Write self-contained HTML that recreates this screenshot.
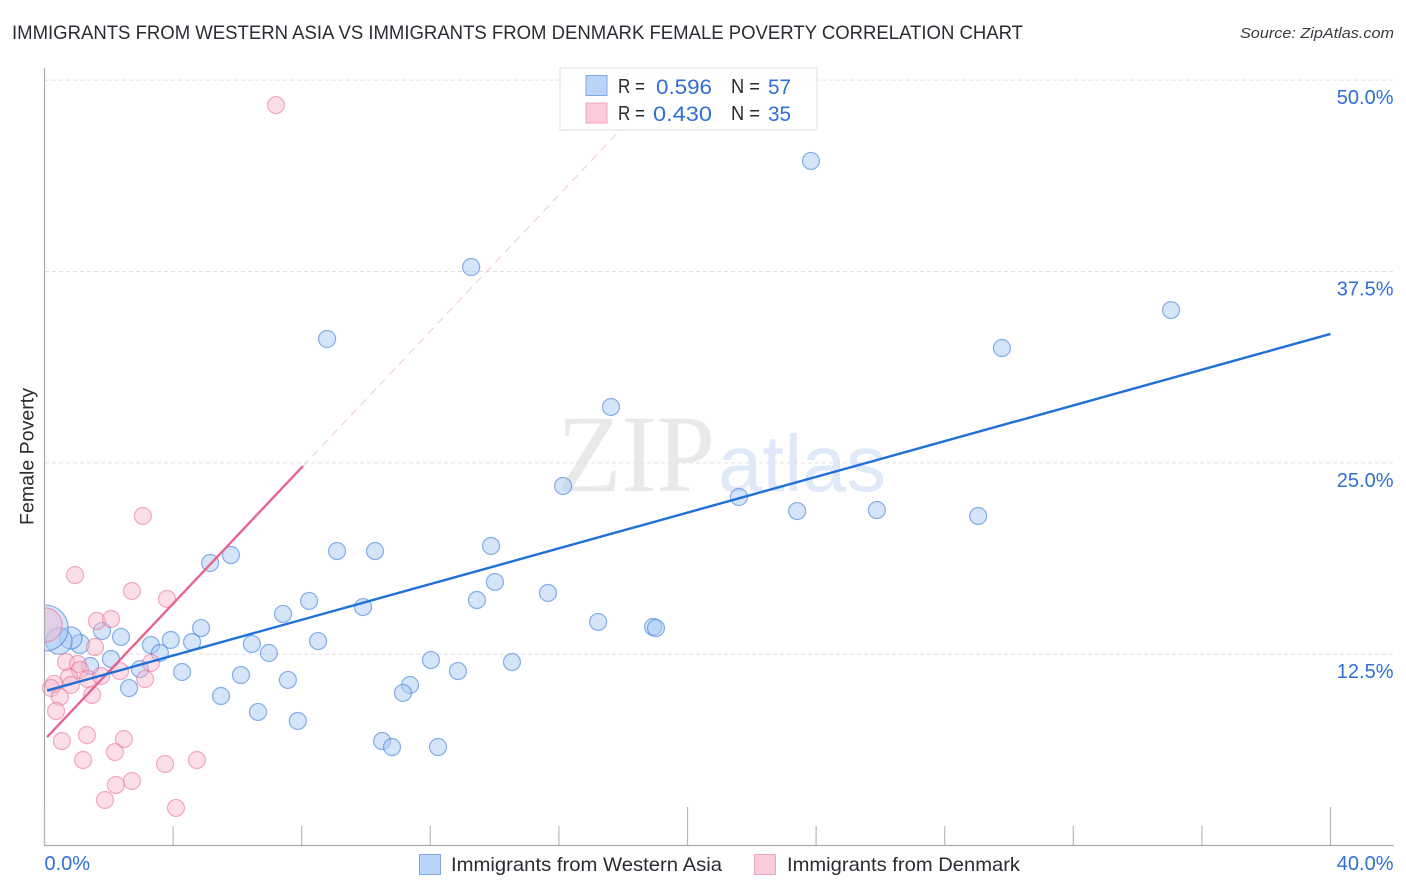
<!DOCTYPE html>
<html lang="en">
<head>
<meta charset="utf-8">
<title>Immigrants from Western Asia vs Immigrants from Denmark Female Poverty Correlation Chart</title>
<style>
html,body{margin:0;padding:0;background:#fff;width:1406px;height:892px;overflow:hidden}
svg{display:block;font-family:"Liberation Sans",sans-serif}
</style>
</head>
<body>
<svg id="chart" xmlns="http://www.w3.org/2000/svg" width="1406" height="892" viewBox="0 0 1406 892">
  <text x="12" y="39" font-size="19.5" fill="#2b2b33" textLength="1011" lengthAdjust="spacingAndGlyphs">IMMIGRANTS FROM WESTERN ASIA VS IMMIGRANTS FROM DENMARK FEMALE POVERTY CORRELATION CHART</text>
  <text x="1394" y="38" font-size="15" font-style="italic" fill="#3a3a42" text-anchor="end" textLength="154" lengthAdjust="spacingAndGlyphs">Source: ZipAtlas.com</text>
  <text transform="translate(33.5,456.5) rotate(-90)" font-size="19" fill="#2b2b33" text-anchor="middle" textLength="137" lengthAdjust="spacingAndGlyphs">Female Poverty</text>
  <g>
    <text x="557" y="491" font-family="'Liberation Serif',serif" font-size="110" fill="#e9e9e9" textLength="158" lengthAdjust="spacingAndGlyphs">ZIP</text>
    <text x="718" y="491" font-family="'Liberation Sans',sans-serif" font-size="80" fill="#dfe9f9" textLength="168" lengthAdjust="spacingAndGlyphs">atlas</text>
  </g>
  <g id="grid"></g>
  <g id="blue-points"></g>
  <g id="pink-points"></g>
  <rect x="0" y="590" width="44.500" height="80" fill="#fff"/>
  <g id="axes"></g>
  <g id="trends"></g>
  <g>
    <rect x="560" y="68" width="257" height="62" fill="#fff" fill-opacity="0.9" stroke="#dfdfdf" stroke-width="1"/>
    <rect x="586" y="75.500" width="21" height="20" fill="#b9d4f7" stroke="#7fa9e6" stroke-width="1"/>
    <rect x="586" y="103" width="21" height="20" fill="#fbcbdb" stroke="#f0a6bf" stroke-width="1"/>
    <g font-size="20.5" fill="#2b2b33">
      <text x="618" y="93" textLength="27" lengthAdjust="spacingAndGlyphs">R =</text>
      <text x="731" y="93" textLength="29" lengthAdjust="spacingAndGlyphs">N =</text>
      <text x="618" y="120" textLength="27" lengthAdjust="spacingAndGlyphs">R =</text>
      <text x="731" y="120" textLength="29" lengthAdjust="spacingAndGlyphs">N =</text>
    </g>
    <g font-size="21.5" fill="#2f6fd6">
      <text x="656" y="94" textLength="56" lengthAdjust="spacingAndGlyphs">0.596</text>
      <text x="768" y="94" textLength="23" lengthAdjust="spacingAndGlyphs">57</text>
      <text x="653" y="121" textLength="59" lengthAdjust="spacingAndGlyphs">0.430</text>
      <text x="768" y="121" textLength="23" lengthAdjust="spacingAndGlyphs">35</text>
    </g>
  </g>
  <g>
    <rect x="419.500" y="854.500" width="21" height="20" fill="#b9d4f7" stroke="#7fa9e6" stroke-width="1"/>
    <text x="451" y="871" font-size="19.500" fill="#2b2b33" textLength="271" lengthAdjust="spacingAndGlyphs">Immigrants from Western Asia</text>
    <rect x="754.500" y="854.500" width="21" height="20" fill="#fbcbdb" stroke="#f0a6bf" stroke-width="1"/>
    <text x="787" y="871" font-size="19.500" fill="#2b2b33" textLength="233" lengthAdjust="spacingAndGlyphs">Immigrants from Denmark</text>
  </g>
</svg>
<script>
const yTickValues = [12.5, 25, 37.5, 50];
const yTickLabels = ['12.5%', '25.0%', '37.5%', '50.0%'];
const xTickValues = [0, 4, 8, 12, 16, 20, 24, 28, 32, 36, 40];
const xMajorTicks = [0, 20, 40];
const xEndLabels = ['0.0%', '40.0%'];
const xEndValues = [0, 40];

const blueX = [23.84,13.27,8.79,35.04,29.78,17.62,16.13,21.60,23.41,25.89,29.04,13.89,9.10,10.28,5.80,5.15,14.01,15.66,13.45,8.23,9.91,7.42,17.22,18.93,19.02,1.79,4.87,2.38,3.93,3.31,4.59,8.51,6.45,1.10,0.82,0.45,0.02,3.59,6.98,12.02,14.54,2.07,1.42,2.97,4.28,6.11,12.86,7.57,11.37,11.15,2.63,5.49,6.64,7.88,10.50,10.81,12.24];
const blueY = [44.72,37.79,33.09,34.98,32.50,28.65,23.49,22.77,21.85,21.92,21.53,19.57,19.24,19.24,18.98,18.46,17.22,16.50,16.04,15.98,15.58,15.13,14.61,14.28,14.21,14.02,14.21,13.63,13.43,13.10,13.30,13.36,13.17,13.17,13.56,13.36,14.21,12.58,12.58,12.12,11.99,12.19,11.73,11.53,11.34,11.14,11.40,10.82,10.49,9.97,10.29,9.77,8.73,8.14,6.83,6.44,6.44];
const blueWeight = [1,1,1,1,1,1,1,1,1,1,1,1,1,1,1,1,1,1,1,1,1,1,1,1,1,1,1,1,1,1,1,1,1,1.25,1.7,2.4,7.3,1,1,1,1,1,1,1,1,1,1,1,1,1,1,1,1,1,1,1,1];

const pinkX = [7.20,3.06,0.95,2.72,3.81,1.63,2.07,1.57,0.67,1.04,1.10,0.76,0.82,0.30,0.20,0.48,0.36,1.35,1.76,1.48,2.35,3.31,3.13,0.54,1.32,2.47,2.19,1.20,3.75,4.74,2.72,2.22,1.88,4.09,0.02];
const pinkY = [48.37,21.53,17.67,16.63,16.11,14.67,14.80,12.97,11.99,11.86,11.47,11.01,10.49,10.56,10.29,9.71,8.79,10.88,11.08,9.84,11.40,11.93,10.88,6.83,7.22,6.96,6.11,5.59,5.33,5.59,4.22,3.96,2.98,2.46,14.41];
const pinkWeight = [1,1,1,1,1,1,1,1,1,1,1,1,1,1,1,1,1,1,1,1,1,1,1,1,1,1,1,1,1,1,1,1,1,1,4];

const blueTrend = [10.08, 0.5835];
const pinkTrend = [6.91, 2.224];
const blueTrendRange = [0.08, 40];
const pinkSolidRange = [0.08, 8.04];
const pinkDashRange = [8.04, 19.3];

const NS = 'http://www.w3.org/2000/svg';
function sx(v){ return 44.5 + v * 32.15; }
function sy(v){ return 845.6 - v * 15.31; }
function make(tag, parent, attrs){
  const el = document.createElementNS(NS, tag);
  for (const k in attrs) el.setAttribute(k, attrs[k]);
  document.getElementById(parent).appendChild(el);
  return el;
}

yTickValues.forEach(function(v, i){
  const line = make('line', 'grid', {x1:45, x2:1393, y1:sy(v), y2:sy(v), stroke:'#e0e0e0', 'stroke-width':1, 'stroke-dasharray':'4 3'});
  
  
  const t = make('text', 'axes', {x:1393.5, y:sy(v)+24, 'font-size':20, fill:'#2f6fd6', 'text-anchor':'end'});
  
  
  t.textContent = yTickLabels[i];
});

const yAxis = make('line', 'axes', {x1:44.5, x2:44.5, y1:68, y2:846, stroke:'#aaaaaa', 'stroke-width':1.2});


const xAxis = make('line', 'axes', {x1:44, x2:1394, y1:845.5, y2:845.5, stroke:'#aaaaaa', 'stroke-width':1.2});



xTickValues.forEach(function(v){
  const top = xMajorTicks.indexOf(v) >= 0 ? 807 : 826;
  const tick = make('line', 'axes', {x1:sx(v), x2:sx(v), y1:top, y2:845, stroke:'#b8b8b8', 'stroke-width':1.2});
  
  
});
xEndValues.forEach(function(v, i){
  const t = make('text', 'axes', {x: i === 0 ? 44.5 : 1393.5, y:870, 'font-size':20, fill:'#2f6fd6', 'text-anchor': i === 0 ? 'start' : 'end'});
  
  
  t.textContent = xEndLabels[i];
});

blueX.forEach(function(v, i){
  const c = make('circle', 'blue-points', {cx:sx(v), cy:sy(blueY[i]), r:8.5*Math.sqrt(blueWeight[i]), fill:'#a9c9f3', 'fill-opacity':0.5, stroke:'#2f74d8', 'stroke-opacity':0.55, 'stroke-width':1.2});
  
  
});
pinkX.forEach(function(v, i){
  const c = make('circle', 'pink-points', {cx:sx(v), cy:sy(pinkY[i]), r:8.5*Math.sqrt(pinkWeight[i]), fill:'#f7b6cb', 'fill-opacity':0.45, stroke:'#e8618c', 'stroke-opacity':0.5, 'stroke-width':1.2});
  
  
});

function trendLine(coef, range, attrs){
  return make('line', 'trends', Object.assign({x1:sx(range[0]), y1:sy(coef[0]+coef[1]*range[0]), x2:sx(range[1]), y2:sy(coef[0]+coef[1]*range[1])}, attrs));
}
const pinkDash = trendLine(pinkTrend, pinkDashRange, {stroke:'#f2c6d6', 'stroke-width':1, 'stroke-dasharray':'8 6'});


const pinkSolid = trendLine(pinkTrend, pinkSolidRange, {stroke:'#e8658f', 'stroke-width':2.4});


const blueSolid = trendLine(blueTrend, blueTrendRange, {stroke:'#2070d8', 'stroke-width':2.4});


</script>
</body>
</html>
